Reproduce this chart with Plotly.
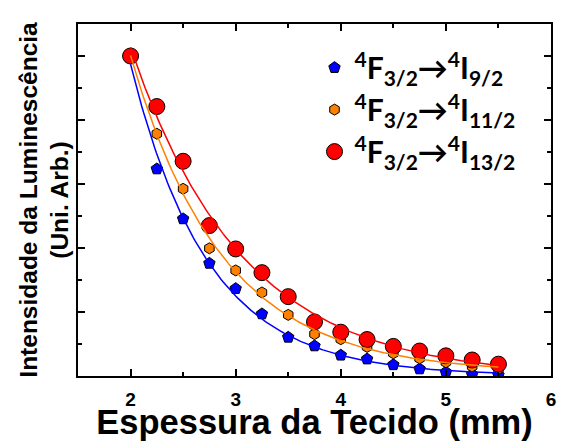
import numpy as np
import plotly.graph_objects as go

# Tissue thickness (mm)
thickness = [2.0, 2.25, 2.5, 2.75, 3.0, 3.25, 3.5, 3.75, 4.0, 4.25, 4.5, 4.75, 5.0, 5.25, 5.5]

# Normalised luminescence intensity for each Nd3+ transition
i_9_2 = [1.0, 0.647, 0.491, 0.352, 0.273, 0.194, 0.121, 0.094, 0.065, 0.053, 0.035, 0.022, 0.012, 0.005, 0.003]
i_11_2 = [1.0, 0.757, 0.585, 0.399, 0.330, 0.261, 0.191, 0.131, 0.115, 0.091, 0.071, 0.055, 0.043, 0.030, 0.022]
i_13_2 = [1.0, 0.842, 0.671, 0.470, 0.397, 0.323, 0.248, 0.169, 0.137, 0.114, 0.0925, 0.078, 0.063, 0.050, 0.037]

# x-axis tick values and labels
x_ticks = [2, 3, 4, 5, 6]
x_tick_labels = ["2", "3", "4", "5", "6"]

names = [
    "<sup>4</sup>F<sub>3/2</sub>→<sup>4</sup>I<sub>9/2</sub>",
    "<sup>4</sup>F<sub>3/2</sub>→<sup>4</sup>I<sub>11/2</sub>",
    "<sup>4</sup>F<sub>3/2</sub>→<sup>4</sup>I<sub>13/2</sub>",
]
colors = ["#0000FF", "#FF8000", "#FF0000"]
symbols = ["pentagon", "hexagon", "circle"]
sizes = [12, 11, 16]


def exp_fit(x, y):
    """Single exponential decay y = A*exp(-(x-x0)/t) + y0, least squares."""
    x = np.asarray(x)
    y = np.asarray(y)
    best = None
    for t in np.linspace(0.2, 3.0, 2000):
        e = np.exp(-(x - x[0]) / t)
        M = np.column_stack([e, np.ones_like(e)])
        coef, res, *_ = np.linalg.lstsq(M, y, rcond=None)
        r = np.sum((M @ coef - y) ** 2)
        if best is None or r < best[0]:
            best = (r, t, coef)
    _, t, (a, y0) = best
    xf = np.linspace(x[0], x[-1], 200)
    return xf, a * np.exp(-(xf - x[0]) / t) + y0


fig = go.Figure()
series = [i_9_2, i_11_2, i_13_2]

for y, n, c, s, sz in zip(series, names, colors, symbols, sizes):
    fig.add_trace(go.Scatter(
        x=thickness, y=y, mode="markers", name=n,
        marker=dict(symbol=s, size=sz, color=c, line=dict(color="black", width=1)),
    ))

for y, c in zip(series, colors):
    xf, yf = exp_fit(thickness, y)
    fig.add_trace(go.Scatter(
        x=xf, y=yf, mode="lines", showlegend=False,
        line=dict(color=c, width=1.5),
    ))

axis_common = dict(
    showline=True, linecolor="black", linewidth=2, mirror="ticks",
    ticks="inside", tickcolor="black", tickwidth=1.5, ticklen=7,
    showgrid=False, zeroline=False,
)

fig.update_xaxes(
    range=[1.5, 6],
    tickmode="array", tickvals=x_ticks,
    ticktext=["<b>%s</b>" % t for t in x_tick_labels],
    minor=dict(dtick=0.5, tick0=0, ticks="inside", ticklen=4, tickcolor="black", tickwidth=1.5),
    tickfont=dict(family="Liberation Sans", size=19, color="black"),
    ticklabelstandoff=5,
    title=dict(text="Espessura da Tecido (mm)", standoff=2,
               font=dict(family="Liberation Sans", size=34.5, color="black", weight="bold")),
    **axis_common,
)
fig.update_yaxes(
    range=[0, 1.1], dtick=0.2, tick0=0, showticklabels=False,
    minor=dict(dtick=0.1, ticks="inside", ticklen=4, tickcolor="black", tickwidth=1.5),
    title=dict(text="Intensidade da Luminescência<br>(Uni. Arb.)", standoff=0,
               font=dict(family="Liberation Sans", size=24.5, color="black", weight="bold")),
    **axis_common,
)

fig.update_layout(
    width=561, height=441,
    margin=dict(l=78, r=5, t=24, b=64),
    paper_bgcolor="white", plot_bgcolor="white",
    showlegend=True,
    legend=dict(
        x=0.50, y=0.95, xanchor="left", yanchor="top",
        bgcolor="rgba(0,0,0,0)", itemsizing="trace", itemwidth=30,
        font=dict(family="Lato", size=30, color="black", weight="bold"),
        tracegroupgap=0,
    ),
)

fig.write_html("out.html")
